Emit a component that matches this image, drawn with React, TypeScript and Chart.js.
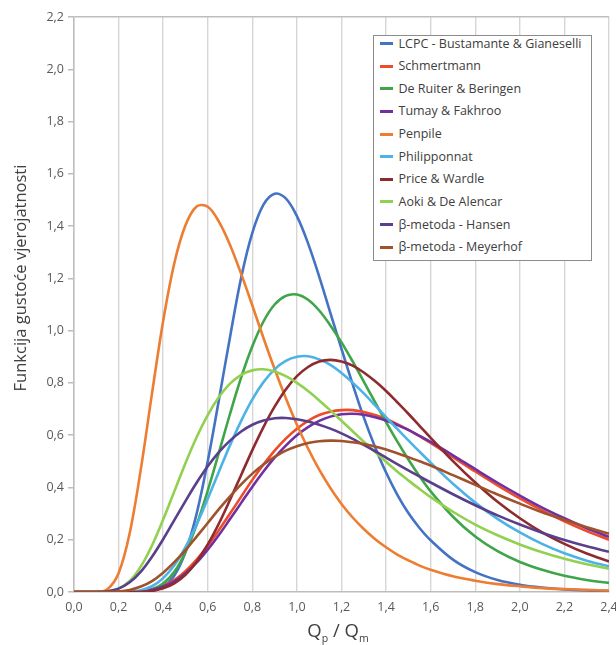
import { useEffect, useRef } from "react";
import { Chart, registerables } from "chart.js";

Chart.register(...registerables);

// x positions (Qp / Qm) at which the curves were read
const X = [
  0, 0.05, 0.1, 0.15, 0.2, 0.25, 0.3, 0.35, 0.4, 0.45, 0.5, 0.55, 0.6, 0.65, 0.7, 0.75, 0.8,
  0.85, 0.9, 0.95, 1.0, 1.05, 1.1, 1.15, 1.2, 1.25, 1.3, 1.35, 1.4, 1.45, 1.5, 1.55, 1.6,
  1.7, 1.8, 1.9, 2.0, 2.1, 2.2, 2.3, 2.4,
];

const X_TICKS = [0, 0.2, 0.4, 0.6, 0.8, 1.0, 1.2, 1.4, 1.6, 1.8, 2.0, 2.2, 2.4];
const Y_TICKS = [0, 0.2, 0.4, 0.6, 0.8, 1.0, 1.2, 1.4, 1.6, 1.8, 2.0, 2.2];

const LABELS = [
  "LCPC - Bustamante & Gianeselli",
  "Schmertmann",
  "De Ruiter & Beringen",
  "Tumay & Fakhroo",
  "Penpile",
  "Philipponnat",
  "Price & Wardle",
  "Aoki & De Alencar",
  "β-metoda - Hansen",
  "β-metoda - Meyerhof",
];

const COLORS = [
  "#4472C4",
  "#EE4B2B",
  "#3FA548",
  "#7030A0",
  "#ED7D31",
  "#4DB3E6",
  "#8E2B2E",
  "#92D050",
  "#5A3F8C",
  "#A0522D",
];

const LCPC = [
  0, 0, 0, 0, 0, 0, 0.001, 0.004, 0.02, 0.063, 0.153, 0.299, 0.5, 0.735, 0.976, 1.203, 1.374,
  1.482, 1.524, 1.506, 1.438, 1.334, 1.207, 1.068, 0.93, 0.795, 0.668, 0.556, 0.457, 0.373, 0.302,
  0.245, 0.198, 0.124, 0.076, 0.046, 0.028, 0.017, 0.01, 0.006, 0.004,
];
const SCHMERTMANN = [
  0, 0, 0, 0, 0, 0.0007, 0.003, 0.01, 0.024, 0.046, 0.08, 0.124, 0.177, 0.237, 0.3, 0.365, 0.429,
  0.488, 0.541, 0.587, 0.625, 0.655, 0.677, 0.69, 0.696, 0.696, 0.689, 0.677, 0.662, 0.642, 0.62,
  0.596, 0.57, 0.516, 0.461, 0.408, 0.358, 0.312, 0.27, 0.233, 0.2,
];
const DE_RUITER = [
  0, 0, 0, 0, 0, 0.0003, 0.002, 0.01, 0.032, 0.077, 0.152, 0.257, 0.388, 0.533, 0.682, 0.821, 0.94,
  1.035, 1.1, 1.133, 1.138, 1.118, 1.077, 1.02, 0.955, 0.882, 0.805, 0.727, 0.65, 0.576, 0.507,
  0.443, 0.385, 0.288, 0.212, 0.156, 0.115, 0.085, 0.062, 0.046, 0.035,
];
const TUMAY = [
  0, 0, 0, 0, 0, 0.0006, 0.003, 0.009, 0.021, 0.041, 0.072, 0.112, 0.162, 0.218, 0.279, 0.341,
  0.403, 0.461, 0.514, 0.56, 0.6, 0.631, 0.655, 0.671, 0.68, 0.682, 0.678, 0.669, 0.656, 0.639,
  0.62, 0.597, 0.574, 0.523, 0.47, 0.418, 0.369, 0.323, 0.282, 0.244, 0.211,
];
const PENPILE = [
  0, 0, 0.0004, 0.011, 0.072, 0.226, 0.471, 0.76, 1.037, 1.258, 1.403, 1.475, 1.474, 1.417, 1.328,
  1.217, 1.096, 0.972, 0.853, 0.742, 0.64, 0.549, 0.468, 0.398, 0.337, 0.285, 0.241, 0.203, 0.171,
  0.143, 0.121, 0.101, 0.085, 0.06, 0.043, 0.03, 0.022, 0.015, 0.011, 0.008, 0.006,
];
const PHILIPPONNAT = [
  0, 0, 0, 0, 0.0002, 0.0015, 0.007, 0.022, 0.053, 0.102, 0.172, 0.258, 0.357, 0.46, 0.562, 0.655,
  0.737, 0.803, 0.852, 0.884, 0.9, 0.902, 0.89, 0.869, 0.838, 0.801, 0.76, 0.715, 0.669, 0.624,
  0.58, 0.537, 0.495, 0.414, 0.342, 0.28, 0.228, 0.184, 0.148, 0.12, 0.098,
];
const PRICE_WARDLE = [
  0, 0, 0, 0, 0, 0, 0.001, 0.004, 0.014, 0.033, 0.066, 0.116, 0.182, 0.262, 0.353, 0.448, 0.543,
  0.631, 0.709, 0.775, 0.826, 0.861, 0.882, 0.888, 0.882, 0.866, 0.84, 0.807, 0.769, 0.726, 0.682,
  0.636, 0.59, 0.501, 0.419, 0.345, 0.282, 0.228, 0.184, 0.147, 0.117,
];
const AOKI = [
  0, 0, 0.0001, 0.002, 0.013, 0.042, 0.098, 0.178, 0.277, 0.385, 0.493, 0.592, 0.677, 0.746,
  0.797, 0.831, 0.848, 0.852, 0.844, 0.826, 0.8, 0.769, 0.733, 0.695, 0.655, 0.615, 0.575, 0.536,
  0.498, 0.461, 0.427, 0.394, 0.363, 0.307, 0.258, 0.217, 0.182, 0.152, 0.127, 0.106, 0.089,
];
const HANSEN = [
  0, 0, 0.0002, 0.003, 0.013, 0.037, 0.078, 0.135, 0.202, 0.275, 0.348, 0.418, 0.481, 0.535,
  0.579, 0.614, 0.64, 0.656, 0.665, 0.666, 0.661, 0.652, 0.64, 0.625, 0.607, 0.586, 0.563, 0.539,
  0.514, 0.489, 0.465, 0.442, 0.419, 0.374, 0.332, 0.293, 0.258, 0.227, 0.199, 0.175, 0.154,
];
const MEYERHOF = [
  0, 0, 0, 0.0003, 0.002, 0.008, 0.021, 0.042, 0.074, 0.114, 0.16, 0.212, 0.264, 0.317, 0.366,
  0.412, 0.453, 0.488, 0.517, 0.541, 0.558, 0.57, 0.577, 0.579, 0.578, 0.573, 0.566, 0.557, 0.545,
  0.531, 0.516, 0.5, 0.484, 0.447, 0.41, 0.373, 0.338, 0.305, 0.276, 0.248, 0.223,
];

const SERIES = [
  LCPC,
  SCHMERTMANN,
  DE_RUITER,
  TUMAY,
  PENPILE,
  PHILIPPONNAT,
  PRICE_WARDLE,
  AOKI,
  HANSEN,
  MEYERHOF,
];

const fmt = (v: number) => Number(v).toFixed(1).replace(".", ",");
const FONT = "'Open Sans', 'Noto Sans', 'DejaVu Sans', sans-serif";

export default function App() {
  const ref = useRef<HTMLCanvasElement>(null);

  useEffect(() => {
    document.body.style.margin = "0";
    const chart = new Chart(ref.current!, {
      type: "line",
      data: {
        datasets: SERIES.map((s, i) => ({
          label: LABELS[i],
          data: X.map((x, j) => ({ x, y: s[j] })),
          borderColor: COLORS[i],
          backgroundColor: COLORS[i],
          borderWidth: 2.6,
          pointRadius: 0,
          fill: false,
          tension: 0.35,
          order: SERIES.length - i,
        })),
      },
      options: {
        responsive: false,
        animation: false,
        layout: { padding: { top: 17, right: 7, left: 0, bottom: 0 } },
        plugins: { legend: { display: false }, tooltip: { enabled: false } },
        scales: {
          x: {
            type: "linear",
            min: 0,
            max: 2.4,
            afterBuildTicks: (s: any) => {
              s.ticks = X_TICKS.map((v) => ({ value: v }));
            },
            ticks: {
              callback: (v: any) => fmt(v),
              color: "#595959",
              font: { family: FONT, size: 12.5 },
              padding: 8,
              maxRotation: 0,
              autoSkip: false,
            },
            grid: { color: "#d6d6d6", lineWidth: 1.4, drawTicks: false },
            border: { color: "#bdbdbd", width: 1.5 },
            afterFit: (s: any) => {
              s.height = 53;
              s.paddingLeft = 0;
              s.paddingRight = 0;
            },
          },
          y: {
            type: "linear",
            min: 0,
            max: 2.2,
            afterBuildTicks: (s: any) => {
              s.ticks = Y_TICKS.map((v) => ({ value: v }));
            },
            ticks: {
              callback: (v: any) => fmt(v),
              color: "#595959",
              font: { family: FONT, size: 12.5 },
              padding: 4,
            },
            grid: {
              color: (ctx: any) =>
                ctx.tick && Math.abs(ctx.tick.value - 2.2) < 1e-6 ? "#bdbdbd" : "rgba(0,0,0,0)",
              lineWidth: 1.5,
              tickColor: "#bdbdbd",
              tickLength: 6,
            },
            border: { color: "#bdbdbd", width: 1.5 },
            afterFit: (s: any) => {
              s.width = 74;
              s.paddingTop = 0;
              s.paddingBottom = 0;
            },
          },
        },
      },
    });
    return () => chart.destroy();
  }, []);

  const rowStep = 22.63;

  return (
    <div style={{ position: "relative", width: 616, height: 645, fontFamily: FONT }}>
      <canvas ref={ref} width={616} height={645} style={{ display: "block" }} />

      {/* y axis title */}
      <div
        style={{
          position: "absolute",
          left: 20 - 160,
          top: 278 - 11,
          width: 320,
          height: 22,
          lineHeight: "22px",
          textAlign: "center",
          transform: "rotate(-90deg)",
          fontSize: 16.5,
          color: "#404040",
          whiteSpace: "nowrap",
        }}
      >
        Funkcija gustoće vjerojatnosti
      </div>

      {/* x axis title */}
      <div
        style={{
          position: "absolute",
          left: 238,
          top: 617,
          width: 200,
          height: 26,
          lineHeight: "26px",
          textAlign: "center",
          fontSize: 18.5,
          color: "#404040",
          whiteSpace: "nowrap",
        }}
      >
        Q<span style={{ fontSize: 10.5, verticalAlign: -5 }}>p</span> / Q
        <span style={{ fontSize: 10.5, verticalAlign: -5 }}>m</span>
      </div>

      {/* legend */}
      <div
        style={{
          position: "absolute",
          left: 373,
          top: 35,
          width: 219,
          height: 226,
          boxSizing: "border-box",
          border: "1.5px solid #8c8c8c",
          background: "#ffffff",
        }}
      >
        {LABELS.map((label, i) => (
          <div
            key={label}
            style={{
              position: "absolute",
              left: 0,
              top: -0.5 + i * rowStep,
              height: 16,
              width: 216,
            }}
          >
            <div
              style={{
                position: "absolute",
                left: 6,
                top: 6.5,
                width: 13,
                height: 3,
                background: COLORS[i],
              }}
            />
            <div
              style={{
                position: "absolute",
                left: 24.5,
                top: 0,
                lineHeight: "16px",
                fontSize: 12.5,
                color: "#404040",
                whiteSpace: "nowrap",
              }}
            >
              {label}
            </div>
          </div>
        ))}
      </div>
    </div>
  );
}
